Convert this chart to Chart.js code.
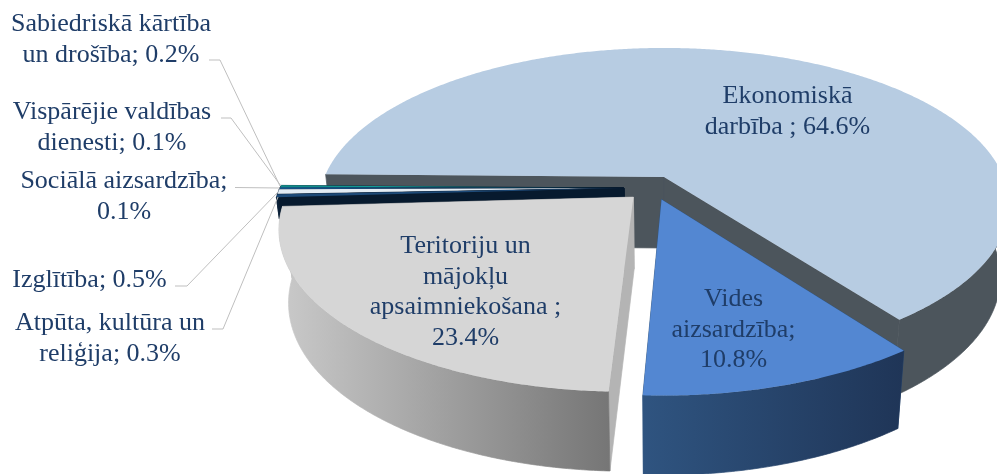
<!DOCTYPE html>
<html lang="lv">
<head>
<meta charset="utf-8">
<style>
html,body{margin:0;padding:0;background:#fff;width:997px;height:474px;overflow:hidden}
#wrap{width:997px;height:474px;position:relative}
canvas{display:block}
</style>
<script src="https://cdn.jsdelivr.net/npm/chart.js@4"></script>
</head>
<body>
<div id="wrap"><canvas id="c" width="997" height="474"></canvas></div>
<script>
const categories = ["Ekonomiskā darbība","Vides aizsardzība","Teritoriju un mājokļu apsaimniekošana","Atpūta, kultūra un reliģija","Izglītība","Sociālā aizsardzība","Vispārējie valdības dienesti","Sabiedriskā kārtība un drošība"];
const values = [64.6,10.8,23.4,0.3,0.5,0.1,0.1,0.2];
const topColors = ["#b7cce2","#5387d2","#d6d6d6","#1d4a78","#e3ecf4","#1f72b8","#1f80b4","#129a94"];
const wallColors = [["#4c555c","#4c555c"],["#2f5480","#1f3557"],["#cacaca","#767676"],["#0a2038","#0a2038"],["#0a2038","#0a2038"],["#0a2038","#0a2038"],["#0a2038","#0a2038"],["#0a2038","#0a2038"]];
const faceColors = ["#4c555c","#2f5480","#b4b4b4","#071a2e","#071a2e","#071a2e","#071a2e","#071a2e"];
const sliceShift = [[0,0],[-0.007,0.145],[-0.088,0.129],[-0.117,0.072],[-0.117,0.072],[-0.117,0.072],[-0.117,0.072],[-0.117,0.072]];
const sliceDepth = [1,1,1,0.3,0.3,0.3,0.3,0.3];
const drawOrder = [0,7,6,5,4,3,2,1];
const labelLines = [
  ["Ekonomiskā","darbība ; "+values[0]+"%"],
  ["Vides","aizsardzība;",values[1]+"%"],
  ["Teritoriju un","mājokļu","apsaimniekošana ;",values[2]+"%"],
  ["Atpūta, kultūra un","reliģija; "+values[3]+"%"],
  ["Izglītība; "+values[4]+"%"],
  ["Sociālā aizsardzība;",values[5]+"%"],
  ["Vispārējie valdības","dienesti; "+values[6]+"%"],
  ["Sabiedriskā kārtība","un drošība; "+values[7]+"%"]
];
const labelAnchors = [[787.5,103],[733.5,306],[465.5,253],[110,330],[89.5,287],[124,188],[112,119],[111,31]];
const leaderLines = [null,null,null,
  [[212,329],[223,329],[278,197]],
  [[175,286],[187,286],[277,193]],
  [[235,187.5],[280,188]],
  [[221,118],[231,118],[281,186]],
  [[209,60],[220,60],[280,186]]
];
const view = {x0:664,y0:177,R:339.5,Ry:152,k:0.178,H:71,s:0.975};

function proj(X,Z,level){
  const w = 1 - view.k*Z;
  const s = 1 - level*(1-view.s);
  return [view.x0 + s*view.R*X/w, view.y0 + view.Ry*Z/w + level*view.H/Math.sqrt(w)];
}
function poly(ctx,pts,fill,seal){
  ctx.beginPath();
  pts.forEach((p,i)=> i ? ctx.lineTo(p[0],p[1]) : ctx.moveTo(p[0],p[1]));
  ctx.closePath();
  ctx.fillStyle = fill;
  ctx.fill();
  if(seal){ ctx.strokeStyle = fill; ctx.lineWidth = 0.7; ctx.stroke(); }
}
const pie3d = {
  id:'pie3d',
  beforeDatasetsDraw(chart){
    const ctx = chart.ctx, meta = chart.getDatasetMeta(0);
    ctx.save();
    drawOrder.forEach(i=>{
      const el = meta.data[i];
      const a0 = el.startAngle, a1 = el.endAngle;
      const [sx,sz] = sliceShift[i];
      const d = sliceDepth[i];
      const n = Math.max(2,Math.ceil((a1-a0)/0.008));
      const top = [], runs = [];
      let run = null;
      for(let j=0;j<=n;j++){
        const a = a0+(a1-a0)*j/n, X = sx+Math.cos(a), Z = sz+Math.sin(a);
        top.push(proj(X,Z,0));
        if(Math.sin(a) >= -0.02){
          if(!run){ run = {t:[],b:[]}; runs.push(run); }
          run.t.push(proj(X,Z,0)); run.b.push(proj(X,Z,d));
        } else run = null;
      }
      const c0 = proj(sx,sz,0), c1 = proj(sx,sz,d);
      const b0 = proj(sx+Math.cos(a0),sz+Math.sin(a0),d), b1 = proj(sx+Math.cos(a1),sz+Math.sin(a1),d);
      poly(ctx,[c0,top[0],b0,c1],faceColors[i],true);
      poly(ctx,[c0,top[n],b1,c1],faceColors[i],true);
      const xs = top.map(p=>p[0]);
      const g = ctx.createLinearGradient(Math.min(...xs),0,Math.max(...xs),0);
      g.addColorStop(0,wallColors[i][0]); g.addColorStop(1,wallColors[i][1]);
      runs.forEach(r=>{ if(r.t.length>1) poly(ctx,r.t.concat(r.b.slice().reverse()),g,true); });
      poly(ctx,[c0].concat(top),topColors[i]);
    });
    ctx.strokeStyle = "#bfbfbf"; ctx.lineWidth = 1;
    leaderLines.forEach(l=>{
      if(!l) return;
      ctx.beginPath();
      l.forEach((p,i)=> i ? ctx.lineTo(p[0],p[1]) : ctx.moveTo(p[0],p[1]));
      ctx.stroke();
    });
    ctx.fillStyle = "#1f3d68";
    ctx.font = '26px "Liberation Serif"';
    ctx.textAlign = "center"; ctx.textBaseline = "alphabetic";
    labelLines.forEach((lines,i)=>{
      lines.forEach((t,j)=> ctx.fillText(t,labelAnchors[i][0],labelAnchors[i][1]+j*30.6));
    });
    ctx.restore();
    return false;
  }
};
new Chart(document.getElementById('c'),{
  type:'pie',
  data:{labels:categories,datasets:[{data:values,backgroundColor:topColors,borderWidth:0}]},
  options:{
    responsive:false,animation:false,rotation:271,
    plugins:{legend:{display:false},tooltip:{enabled:false}}
  },
  plugins:[pie3d]
});
</script>
</body>
</html>
